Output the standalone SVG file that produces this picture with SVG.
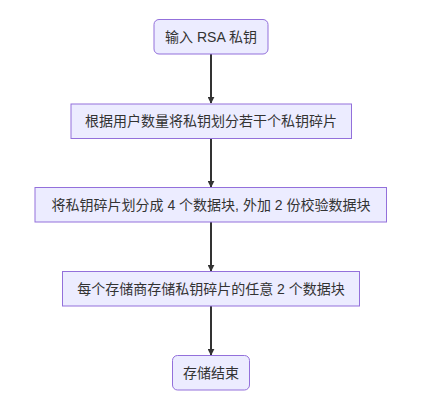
<svg xmlns="http://www.w3.org/2000/svg" width="437" height="412" viewBox="0 0 437 412">
<defs>
<style>
.node rect{fill:#ECECFF;stroke:#9370DB;stroke-width:1}
.node text{font-family:"Liberation Sans","Noto Sans CJK SC",sans-serif;font-size:14px;fill:#333;text-anchor:middle;dominant-baseline:central}
.edge{stroke:#333;stroke-width:2;fill:none}
</style>
<marker id="arrow" viewBox="0 0 10 10" refX="9" refY="5" markerWidth="7" markerHeight="7" markerUnits="userSpaceOnUse" orient="auto">
<path d="M0,0 L10,5 L0,10 z" fill="#333"/>
</marker>
</defs>
<rect width="437" height="412" fill="#fff"/>
<g id="edges">
<path class="edge" d="M211,54 L211,103" marker-end="url(#arrow)"/>
<path class="edge" d="M211,138.5 L211,187" marker-end="url(#arrow)"/>
<path class="edge" d="M211,222 L211,271" marker-end="url(#arrow)"/>
<path class="edge" d="M211,306 L211,355" marker-end="url(#arrow)"/>
</g>
<g id="n1" class="node"><rect x="154" y="19.5" width="114" height="34.5" rx="5"/><text x="211" y="37">输入 RSA 私钥</text></g>
<g id="n2" class="node"><rect x="71" y="104" width="280.5" height="34.5"/><text x="211" y="121">根据用户数量将私钥划分若干个私钥碎片</text></g>
<g id="n3" class="node"><rect x="35" y="187.5" width="351.5" height="34.5"/><text x="211" y="205">将私钥碎片划分成 4 个数据块, 外加 2 份校验数据块</text></g>
<g id="n4" class="node"><rect x="62.5" y="271.5" width="297" height="34.5"/><text x="211" y="289">每个存储商存储私钥碎片的任意 2 个数据块</text></g>
<g id="n5" class="node"><rect x="172.5" y="355.5" width="77" height="34.5" rx="5"/><text x="211" y="373">存储结束</text></g>
</svg>
